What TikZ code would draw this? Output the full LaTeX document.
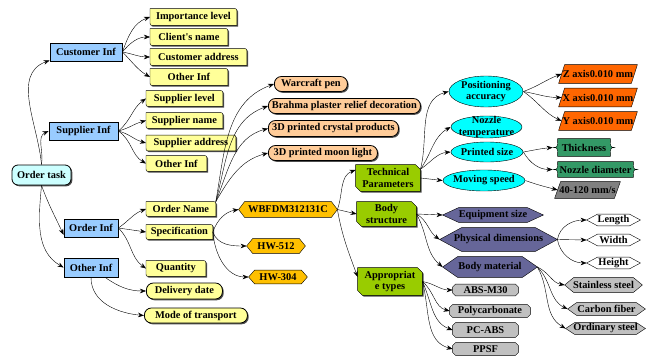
\documentclass[tikz,border=0pt]{standalone}
\usepackage{fontspec}
\setmainfont{Liberation Serif}
\usetikzlibrary{calc,arrows.meta,shadows}
\pgfdeclarelayer{bg}
\pgfsetlayers{bg,main}

\definecolor{taskc}{HTML}{CCFFFF}
\definecolor{bluec}{HTML}{99CCFF}
\definecolor{yelc}{HTML}{FFFF99}
\definecolor{peachc}{HTML}{FFCC99}
\definecolor{goldc}{HTML}{FFC000}
\definecolor{limec}{HTML}{99CC00}
\definecolor{cyanc}{HTML}{00FFFF}
\definecolor{redorc}{HTML}{FF6600}
\definecolor{seac}{HTML}{339966}
\definecolor{greyc}{HTML}{808080}
\definecolor{purpc}{HTML}{666699}
\definecolor{silvc}{HTML}{C0C0C0}
\definecolor{shadowc}{HTML}{4D4D4D}

\newcommand\lab{\fontsize{10.4}{11.6}\selectfont\bfseries}

% outline paths built from the anchors of a plain text node
\newcommand\tabpath[2]{\path[#2] (#1.north west) -- ($(#1.north east)+(-4,0)$) .. controls (#1.north east) .. ($(#1.north east)+(0,4)$) -- (#1.south east) -- ($(#1.south west)+(4,0)$) .. controls (#1.south west) .. ($(#1.south west)+(0,-4)$) -- cycle;}
\newcommand\snippath[2]{\path[#2] (#1.north west) -- ($(#1.north east)+(-5,0)$) -- ($(#1.north east)+(0,5)$) -- (#1.south east) -- ($(#1.south west)+(5,0)$) -- ($(#1.south west)+(0,-5)$) -- cycle;}
\newcommand\hexpath[3]{\path[#3] (#1.west) -- ($(#1.north west)+(#2,0)$) -- ($(#1.north east)+(-#2,0)$) -- (#1.east) -- ($(#1.south east)+(-#2,0)$) -- ($(#1.south west)+(#2,0)$) -- cycle;}
\newcommand\parapath[3]{\path[#3] ($(#1.south west)+(-#2,0)$) -- ($(#1.north west)+(#2,0)$) -- ($(#1.north east)+(#2,0)$) -- ($(#1.south east)+(-#2,0)$) -- cycle;}
\newcommand\bracepath[3]{\path[#3] ($(#1.north west)+(#2,0)$) .. controls ($(#1.west)+(#2,0)$) .. (#1.west) .. controls ($(#1.west)+(#2,0)$) .. ($(#1.south west)+(#2,0)$) -- ($(#1.south east)+(-#2,0)$) .. controls ($(#1.east)+(-#2,0)$) .. (#1.east) .. controls ($(#1.east)+(-#2,0)$) .. ($(#1.north east)+(-#2,0)$) -- cycle;}
\newcommand\octpath[3]{\path[#3] ($(#1.north west)+(#2,0)$) -- ($(#1.north east)+(-#2,0)$) -- ($(#1.north east)+(0,#2)$) -- ($(#1.south east)+(0,-#2)$) -- ($(#1.south east)+(-#2,0)$) -- ($(#1.south west)+(#2,0)$) -- ($(#1.south west)+(0,-#2)$) -- ($(#1.north west)+(0,#2)$) -- cycle;}
\newcommand\ellpath[4]{\path[#4] (#1.center) ellipse [x radius=#2, y radius=#3];}

\tikzset{
  txt/.style={inner sep=0pt, font=\lab, align=center},
  sz/.style 2 args={minimum width=#1, minimum height=#2},
  sh/.style={drop shadow={shadow xshift=1.3pt, shadow yshift=-1.3pt, fill=shadowc, opacity=1}},
  shd/.style={fill=shadowc, transform canvas={xshift=1.3pt, yshift=-1.3pt}},
  filled/.style={draw, fill=#1},
  blu/.style={draw, fill=bluec, sh},
  otask/.style={draw, fill=taskc, rounded corners=6pt, sh},
  pill/.style={draw, fill=#1, rounded corners=7pt, sh},
  conn/.style={-{Stealth[length=6pt,width=4.5pt]}},
}

\begin{document}
\begin{tikzpicture}[x=1pt, y=-1pt, line width=0.8pt]
\useasboundingbox (0,0) rectangle (654,356);

% root and first level
\node[txt, otask, sz={59}{20}] (ot) at (41.5,175) {Order task};
\node[txt, blu, sz={72}{18}] (ci) at (86,52) {Customer Inf};
\node[txt, blu, sz={69}{18}] (si) at (83.5,131) {Supplier Inf};
\node[txt, blu, sz={54}{18}] (oi) at (91,228) {Order Inf};
\node[txt, blu, sz={54}{19}] (oinf) at (91,267.5) {Other Inf};

% yellow detail tabs
\node[txt, anchor=west, sz={86}{16}] (il) at (150,17) {Importance level};
\node[txt, anchor=west, sz={77}{16}] (cn) at (150,37) {Client\textquotesingle s name};
\node[txt, anchor=west, sz={96}{16}] (ca) at (150,57) {Customer address};
\node[txt, anchor=west, sz={77}{16}] (co) at (150,77) {Other Inf};
\node[txt, anchor=west, sz={76}{15}] (sl) at (146,98.5) {Supplier level};
\node[txt, anchor=west, sz={76}{15}] (sn) at (146,120.5) {Supplier name};
\node[txt, anchor=west, sz={89}{15}] (sa) at (146,143) {Supplier address};
\node[txt, anchor=west, sz={60}{15}] (so) at (146,163.5) {Other Inf};
\node[txt, anchor=west, sz={69}{14}] (on) at (146,209) {Order Name};
\node[txt, anchor=west, sz={66}{14}] (sp) at (146,232) {Specification};
\node[txt, anchor=west, sz={59}{15}] (qt) at (146,268.5) {Quantity};
\node[txt, anchor=west, pill=yelc, sz={76}{16}] (dd) at (146,291) {Delivery date};
\node[txt, anchor=west, pill=yelc, sz={103}{15}] (mt) at (144,315.5) {Mode of transport};

% products
\node[txt, anchor=west, pill=peachc, sz={73}{15}] (wp) at (274,84) {Warcraft pen};
\node[txt, anchor=west, pill=peachc, sz={152}{15}] (bp) at (268,106) {Brahma plaster relief decoration};
\node[txt, anchor=west, pill=peachc, sz={130}{16}] (cp) at (268,128.5) {3D printed crystal products};
\node[txt, anchor=west, pill=peachc, sz={109}{15}] (ml) at (268,153) {3D printed moon light};

% specification models
\node[txt, sz={98}{15}] (wb) at (288,209.5) {WBFDM312131C};
\node[txt, sz={58}{14}] (h512) at (276,246) {HW-512};
\node[txt, sz={58}{13}] (h304) at (278,277) {HW-304};

% printer groups
\node[txt, sz={64}{26}] (tp) at (388,178) {Technical\\Parameters};
\node[txt, sz={59}{24}] (bs) at (386.5,214) {Body\\structure};
\node[txt, sz={64}{27}] (at) at (390,281.5) {Appropriat\\e types};

% technical parameters
\node[txt, sz={74}{10}] (pa) at (486,91.5) {Positioning\\accuracy};
\node[txt, sz={71}{10}] (nt) at (486.5,127) {Nozzle\\temperature};
\node[txt, sz={72}{10}] (ps) at (487,152) {Printed size};
\node[txt, sz={82}{10}] (ms) at (484,180.5) {Moving speed};
\node[txt, sz={72}{18}] (za) at (598,74) {Z axis0.010 mm};
\node[txt, sz={72}{18}] (xa) at (598,97.5) {X axis0.010 mm};
\node[txt, sz={72}{18}] (ya) at (598,121) {Y axis0.010 mm};
\node[txt, sz={62}{17}] (th) at (584,147.5) {Thickness};
\node[txt, sz={85}{15}] (nd) at (595.5,169.5) {Nozzle diameter};
\node[txt, sz={59}{16}] (sv) at (587.5,190) {40-120 mm/s};

% body structure
\node[txt, sz={100}{14}] (eq) at (493,215) {Equipment size};
\node[txt, sz={117}{23}] (pd) at (498.5,239.5) {Physical dimensions};
\node[txt, sz={94}{20}] (bm) at (490,267) {Body material};
\node[txt, sz={53}{11}] (len) at (613.5,220) {Length};
\node[txt, sz={53}{11}] (wid) at (613.5,240) {Width};
\node[txt, sz={53}{11}] (hei) at (613.5,263) {Height};
\node[txt, sz={77}{14}] (ss) at (603.5,285) {Stainless steel};
\node[txt, sz={77}{12}] (cf) at (606.5,309) {Carbon fiber};
\node[txt, sz={79}{11}] (os) at (605.5,328.5) {Ordinary steel};

% materials
\node[txt, sz={65}{11}] (abs) at (485.5,290) {ABS-M30};
\node[txt, sz={80}{12}] (pc) at (490,311) {Polycarbonate};
\node[txt, sz={65}{14}] (pcabs) at (485.5,330) {PC-ABS};
\node[txt, sz={65}{12}] (ppsf) at (485.5,349) {PPSF};

% outlines behind the texts
\begin{pgfonlayer}{bg}
  \foreach \n in {il,cn,ca,co,sl,sn,sa,so,on,sp,qt} {
    \tabpath{\n}{shd}
    \tabpath{\n}{filled=yelc}
  }
  \foreach \n in {tp,bs,at} {
    \snippath{\n}{shd}
    \snippath{\n}{filled=limec}
  }
  \hexpath{wb}{6}{filled=goldc}
  \hexpath{h512}{6}{filled=goldc}
  \hexpath{h304}{6}{filled=goldc}
  \ellpath{pa}{37}{15.5}{filled=cyanc}
  \ellpath{nt}{35.5}{11}{filled=cyanc}
  \ellpath{ps}{36}{10}{filled=cyanc}
  \ellpath{ms}{41}{10.5}{filled=cyanc}
  \parapath{za}{3}{filled=redorc}
  \parapath{xa}{3}{filled=redorc}
  \parapath{ya}{3}{filled=redorc}
  \parapath{sv}{3}{filled=greyc}
  \bracepath{th}{5}{filled=seac}
  \bracepath{nd}{5}{filled=seac}
  \hexpath{eq}{16}{filled=purpc}
  \hexpath{pd}{22}{filled=purpc}
  \hexpath{bm}{15}{filled=purpc}
  \hexpath{len}{11}{filled=white}
  \hexpath{wid}{11}{filled=white}
  \hexpath{hei}{11}{filled=white}
  \hexpath{ss}{9}{filled=silvc}
  \hexpath{cf}{9}{filled=silvc}
  \hexpath{os}{9}{filled=silvc}
  \octpath{abs}{3}{filled=silvc}
  \octpath{pc}{3}{filled=silvc}
  \octpath{pcabs}{3}{filled=silvc}
  \octpath{ppsf}{3}{filled=silvc}
\end{pgfonlayer}

% connectors
\draw[conn] (ot.north) to[out=95,in=200] (ci.193);
\draw[conn] (ot.north) to[out=80,in=205] (si.west);
\draw[conn] (ot.south) to[out=-70,in=115] (oi.194);
\draw[conn] (ot.south) to[out=-95,in=150] (oinf.west);

\draw[conn] (ci.east) to[out=70,in=200] (il.west);
\draw[conn] (ci.east) to[out=50,in=180] (cn.west);
\draw[conn] (ci.east) to[out=-10,in=180] (ca.west);
\draw[conn] (ci.east) to[out=-45,in=150] (co.west);

\draw[conn] (si.east) to[out=40,in=215] (sl.west);
\draw[conn] (si.east) to[out=15,in=195] (sn.west);
\draw[conn] (si.east) to[out=-15,in=165] (sa.west);
\draw[conn] (si.east) to[out=-35,in=150] (so.west);

\draw[conn] (oi.east) to[out=35,in=200] (on.west);
\draw[conn] (oi.east) -- (sp.west);
\draw[conn] (oi.east) to[out=-45,in=145] (qt.west);

\draw[conn] (oinf.-35) to[out=-35,in=180] (dd.west);
\draw[conn] (oinf.south) to[out=-90,in=175] (mt.west);

\draw[conn] (on.north east) to[out=80,in=200] (wp.west);
\draw[conn] (on.north east) to[out=75,in=200] (bp.west);
\draw[conn] (on.north east) to[out=68,in=195] (cp.west);
\draw[conn] (on.north east) to[out=60,in=195] (ml.west);

\draw[conn] (sp.east) to[out=70,in=190] (wb.west);
\draw[conn] (sp.east) to[out=-70,in=180] (h512.west);
\draw[conn] (sp.east) to[out=-85,in=180] (h304.west);

\draw[conn] (wb.east) to[out=70,in=200] (tp.166);
\draw[conn] (wb.east) -- (bs.west);
\draw[conn] (wb.east) to[out=-80,in=110] (at.172);

\draw[conn] (tp.15) to[out=75,in=195] (pa.west);
\draw[conn] (tp.15) to[out=55,in=210] (nt.west);
\draw[conn] (tp.15) to[out=35,in=185] (ps.west);
\draw[conn] (tp.east) -- (ms.west);

\draw[conn] (pa.east) to[out=20,in=200] (za.west);
\draw[conn] (pa.east) to[out=-10,in=180] (xa.west);
\draw[conn] (pa.east) to[out=-35,in=155] (ya.west);
\draw[conn] (ps.east) to[out=10,in=185] (th.west);
\draw[conn] (ps.east) to[out=-60,in=180] (nd.west);
\draw[conn] (ms.east) to[out=-20,in=165] (sv.west);

\draw[conn] (bs.east) -- (eq.west);
\draw[conn] (bs.east) to[out=-30,in=145] (pd.west);
\draw[conn] (bs.east) to[out=-60,in=140] (bm.west);

\draw[conn] (pd.east) to[out=80,in=180] (len.west);
\draw[conn] (pd.east) -- (wid.west);
\draw[conn] (pd.east) to[out=-80,in=180] (hei.west);

\draw[conn] (bm.east) to[out=-25,in=170] (ss.west);
\draw[conn] (bm.east) to[out=-45,in=155] (cf.west);
\draw[conn] (bm.east) to[out=-60,in=150] (os.west);

\draw[conn] (at.east) to[out=-10,in=180] (abs.west);
\draw[conn] (at.east) to[out=-40,in=165] (pc.west);
\draw[conn] (at.east) to[out=-65,in=160] (pcabs.west);
\draw[conn] (at.east) to[out=-75,in=165] (ppsf.west);
\end{tikzpicture}
\end{document}
